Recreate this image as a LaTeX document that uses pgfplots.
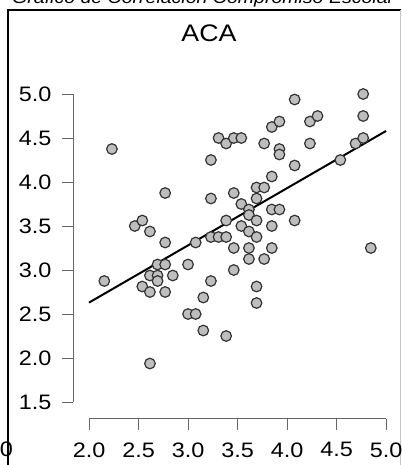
\documentclass[border=0pt]{standalone}
\usepackage{fontspec}
\setmainfont{Liberation Sans}[FakeStretch=1.12]
\usepackage{pgfplots}
\usepackage{pgfplotstable}
\pgfplotsset{compat=1.18}
\definecolor{ptfill}{HTML}{BEBEBE}
\definecolor{ptedge}{HTML}{333333}
\definecolor{axgray}{HTML}{666666}

% ACA scores (x) vs compromiso escolar (y)
\pgfplotstableread{
x y
2.154 2.875
2.231 4.375
2.462 3.5
2.538 3.5625
2.615 3.4375
2.769 3.875
2.769 3.3125
2.538 2.8125
2.615 2.75
2.769 2.75
2.615 2.9375
2.692 2.9375
2.692 2.875
2.846 2.9375
2.692 3.0625
2.769 3.0625
3.0 3.0625
2.615 1.9375
3.0 2.5
3.077 2.5
3.077 3.3125
3.154 2.6875
3.154 2.3125
3.385 2.25
3.231 2.875
3.231 3.375
3.308 3.375
3.385 3.375
3.231 3.8125
3.231 4.25
3.308 4.5
3.385 4.4375
3.462 4.5
3.538 4.5
3.462 3.875
3.462 3.25
3.462 3.0
3.385 3.5625
3.538 3.75
3.538 3.5
3.615 3.6875
3.615 3.625
3.615 3.4375
3.615 3.25
3.615 3.125
3.692 3.9375
3.769 3.9375
3.692 3.8125
3.692 3.5625
3.692 3.375
3.692 2.8125
3.692 2.625
3.769 3.125
3.769 4.4375
3.846 4.625
3.846 4.0625
3.846 3.6875
3.846 3.5
3.846 3.25
3.923 4.6875
3.923 4.375
3.923 4.3125
3.923 3.6875
4.077 4.9375
4.077 4.1875
4.077 3.5625
4.231 4.6875
4.308 4.75
4.231 4.4375
4.538 4.25
4.692 4.4375
4.769 4.5
4.769 4.75
4.769 5.0
4.846 3.25
}\acadata

\begin{document}
\begin{tikzpicture}[x=1bp,y=1bp]
\useasboundingbox (0,0) rectangle (401,465);
\draw[line width=1.5bp] (8,0) -- (8,455) -- (401,455);
\draw[gray!45, line width=1bp] (400,0) -- (400,455);
\node[anchor=base west, inner sep=0pt, font=\fontsize{17.5}{20}\selectfont\itshape] at (12,461.5) {Gráfico de Correlación Compromiso Escolar};
\node[anchor=base east, inner sep=0pt, font=\fontsize{21}{24}\selectfont] at (13,8) {5.0};
\node[font=\fontsize{24}{28}\selectfont] at (209,431.5) {ACA};
\begin{axis}[at={(73bp,46bp)}, anchor=south west, x=99bp, y=88bp,
  xmin=1.838, xmax=5.12, ymin=1.307, ymax=5.15, clip=false,
  axis line style={draw=none},
  xtick={2,2.5,3,3.5,4,4.5,5}, xticklabels={2.0,2.5,3.0,3.5,4.0,4.5,5.0},
  ytick={1.5,2,2.5,3,3.5,4,4.5,5}, yticklabels={1.5,2.0,2.5,3.0,3.5,4.0,4.5,5.0},
  xtick pos=lower, ytick pos=lower, tick align=outside,
  major tick length=11bp, tick style={axgray, line width=1bp},
  xticklabel style={font=\fontsize{21}{24}\selectfont, anchor=north, yshift=-9bp},
  yticklabel style={font=\fontsize{21}{24}\selectfont, anchor=east, xshift=-7bp}]
\draw[axgray, line width=1bp] (axis cs:2,1.307) -- (axis cs:5,1.307);
\draw[axgray, line width=1bp] (axis cs:1.838,1.5) -- (axis cs:1.838,5);
\addplot[only marks, mark=*, mark size=5.3bp,
  mark options={fill=ptfill, draw=ptedge, line width=1.2bp}] table {\acadata};
\addplot[black, line width=2bp] coordinates {(2,2.63) (5,4.58)};
\end{axis}
\end{tikzpicture}
\end{document}
